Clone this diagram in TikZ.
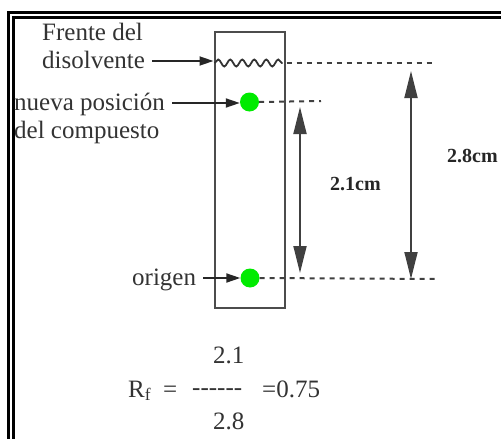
\documentclass[tikz,border=0pt]{standalone}
\usepackage{fontspec}
\setmainfont{Liberation Serif}
\usetikzlibrary{arrows.meta,decorations.pathmorphing}
\definecolor{spotgreen}{RGB}{0,235,0}

\begin{document}
\begin{tikzpicture}[
        x=1pt,
        y=-1pt,
        frame/.style={line width=3pt, draw=black},
        plate/.style={draw=black!70, line width=2pt, inner sep=0pt},
        lbl/.style={font=\fontsize{25}{28}\selectfont, text=black!80, inner sep=0pt,
                    text height=19pt, text depth=5pt, anchor=base west},
        dimlbl/.style={font=\fontsize{20}{24}\selectfont\bfseries, text=black!85, inner sep=0pt, anchor=base west},
        spot/.style={circle, fill=spotgreen, inner sep=0pt, minimum size=19pt},
        pointer/.style={-{Triangle[length=14pt, width=9pt]}, line width=1.8pt, draw=black!85, shorten <=7pt},
        dim/.style={{Triangle[length=27pt, width=13pt]}-{Triangle[length=27pt, width=13pt]}, line width=1.8pt, draw=black!75},
        level/.style={line width=2pt, draw=black!75, dash pattern=on 5pt off 5pt},
        wave/.style={line width=1.8pt, draw=black!80, decorate,
                     decoration={snake, amplitude=3.5pt, segment length=12pt}}
    ]
        \useasboundingbox[fill=white] (0,0) rectangle (501,439);
        \draw[frame] (8.5,439) -- (8.5,12.5) -- (501,12.5);
        \draw[frame] (13.5,439) -- (13.5,17.5) -- (501,17.5);

        \node[plate, minimum width=70pt, minimum height=276pt, anchor=north west] (plate) at (213.5,31) {};
        \coordinate (wl) at (214.5,63);
        \coordinate (wr) at (282.5,63);
        \draw[wave] (wl) -- (wr);

        \node[spot] (new) at (249.5,102) {};
        \node[spot] (orig) at (250,278) {};

        \coordinate (frontend) at (433,63);
        \coordinate (newend) at (321,101);
        \coordinate (origend) at (438,279);
        \draw[level] ([xshift=4pt]wr) -- (frontend);
        \draw[level] (new.east) -- (newend);
        \draw[level] (orig.east) -- (origend);

        \node[lbl] (front) at (42,40) {Frente del};
        \node[lbl] (solv) at (42,68) {disolvente};
        \node[lbl] (nueva) at (14,110) {nueva posición};
        \node[lbl] (comp) at (14,138) {del compuesto};
        \node[lbl] (origen) at (132,285) {origen};

        \draw[pointer] (solv.east) -- (solv.east -| plate.west);
        \draw[pointer] (nueva.east) -- (nueva.east -| new.west);
        \draw[pointer] (origen.east) -- (origen.east -| orig.west);

        \coordinate (d1top) at (300,107);
        \coordinate (d1bot) at (300,273);
        \coordinate (d2top) at (411,71);
        \coordinate (d2bot) at (411,279);
        \draw[dim] (d1top) -- (d1bot);
        \draw[dim] (d2top) -- (d2bot);
        \node[dimlbl] (len1) at (330,190) {2.1cm};
        \node[dimlbl] (len2) at (447,162) {2.8cm};

        \node[lbl] (rf) at (128,397) {R\textsubscript{f}};
        \node[lbl] (eqa) at (163,397) {=};
        \node[lbl] (num) at (213,363) {2.1};
        \node[lbl] (bar) at (192,395) {-{}-{}-{}-{}-{}-};
        \node[lbl] (den) at (213,429) {2.8};
        \node[lbl] (res) at (262,397) {=0.75};
    \end{tikzpicture}
\end{document}
